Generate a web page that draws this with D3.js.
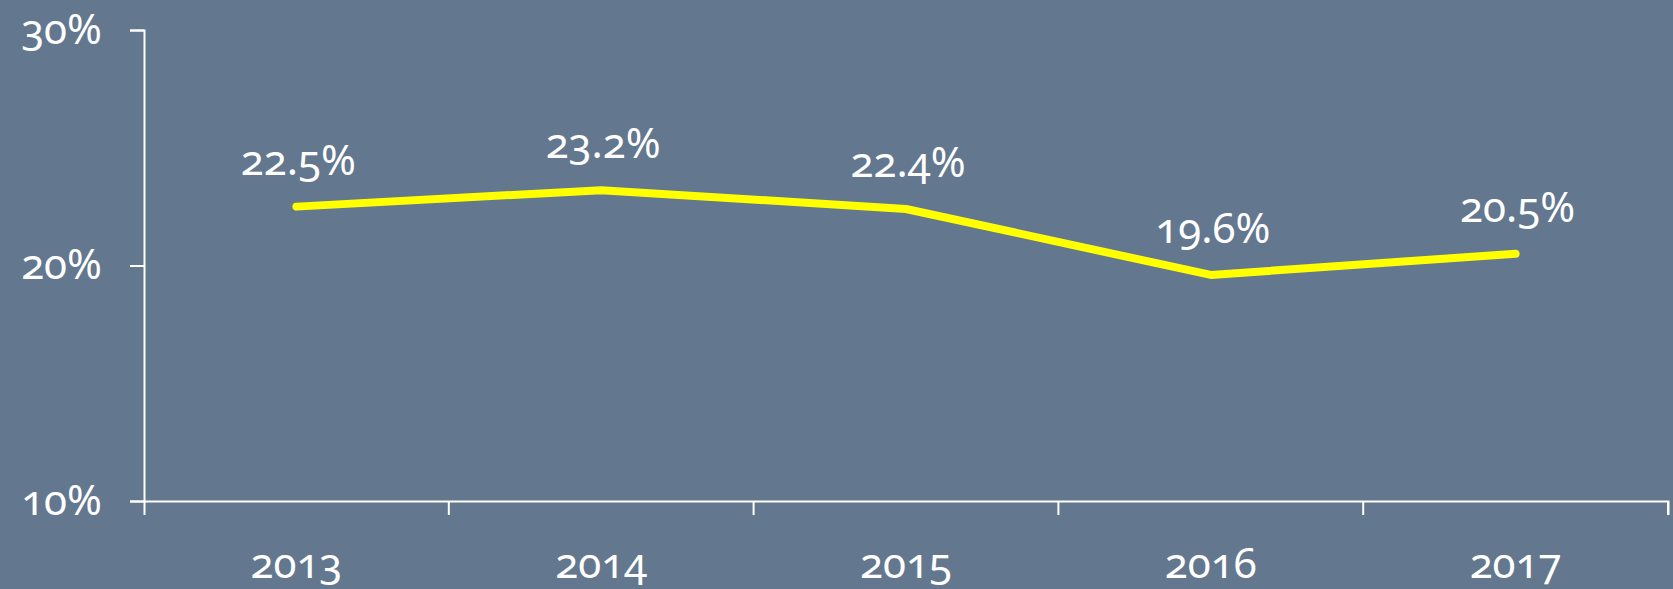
<!DOCTYPE html>
<html>
<head>
<meta charset="utf-8">
<script src="https://cdn.jsdelivr.net/npm/d3@7"></script>
<style>
  html, body { margin: 0; padding: 0; background: #62768f; }
  svg { display: block; }
  .chart text {
    font-family: "Noto Sans", sans-serif;
    font-variant-numeric: oldstyle-nums;
    font-feature-settings: "onum" 1;
    fill: #ffffff;
  }
  .axis path, .axis line { stroke: #ffffff; stroke-width: 2; }
</style>
</head>
<body>
<svg id="chart" class="chart"></svg>
<script>
// chart data
var years = ['2013', '2014', '2015', '2016', '2017'];
var shares = [22.5, 23.2, 22.4, 19.6, 20.5];
var yTicks = [10, 20, 30];

var width = 1673;
var height = 589;
var margin = {top: 30, right: 5, bottom: 88, left: 144};
var fontSize = '42px';

var svg = d3.select('#chart')
  .attr('width', width)
  .attr('height', height);

svg.append('rect')
  .attr('width', width)
  .attr('height', height)
  .attr('fill', '#63778f');

var x = d3.scaleBand()
  .domain(years)
  .range([margin.left, width - margin.right]);

var y = d3.scaleLinear()
  .domain([10, 30])
  .range([height - margin.bottom, margin.top]);

// y axis
var yAxis = svg.append('g')
  .attr('class', 'axis')
  .attr('transform', 'translate(' + margin.left + ',0)')
  .call(d3.axisLeft(y)
    .tickValues(yTicks)
    .tickSize(14)
    .tickPadding(28)
    .tickFormat(function(d) { return d + '%'; }));

yAxis.selectAll('text').style('font-size', fontSize);

// x axis, ticks moved to the band edges
var xAxis = svg.append('g')
  .attr('class', 'axis')
  .attr('transform', 'translate(0,' + (height - margin.bottom) + ')')
  .call(d3.axisBottom(x)
    .tickSize(14)
    .tickPadding(33));

xAxis.selectAll('.tick line')
  .attr('transform', 'translate(' + (x.bandwidth() / 2) + ',0)');
xAxis.selectAll('text').style('font-size', fontSize);

xAxis.selectAll('.domain, .tick line').attr('fill', 'none');
svg.selectAll('.axis').attr('font-family', null).attr('font-size', null);

// line
var line = d3.line()
  .x(function(d, i) { return x(years[i]) + x.bandwidth() / 2; })
  .y(function(d) { return y(d); });

svg.append('path')
  .datum(shares)
  .attr('d', line)
  .attr('fill', 'none')
  .attr('stroke', '#ffff00')
  .attr('stroke-width', 8)
  .attr('stroke-linecap', 'round')
  .attr('stroke-linejoin', 'round');

// value labels
svg.selectAll('.value-label')
  .data(shares)
  .enter()
  .append('text')
  .attr('class', 'value-label')
  .attr('x', function(d, i) { return x(years[i]) + x.bandwidth() / 2 + 2; })
  .attr('y', function(d) { return y(d) - 32; })
  .attr('text-anchor', 'middle')
  .style('font-size', fontSize)
  .text(function(d) { return d.toFixed(1) + '%'; });
</script>
</body>
</html>
